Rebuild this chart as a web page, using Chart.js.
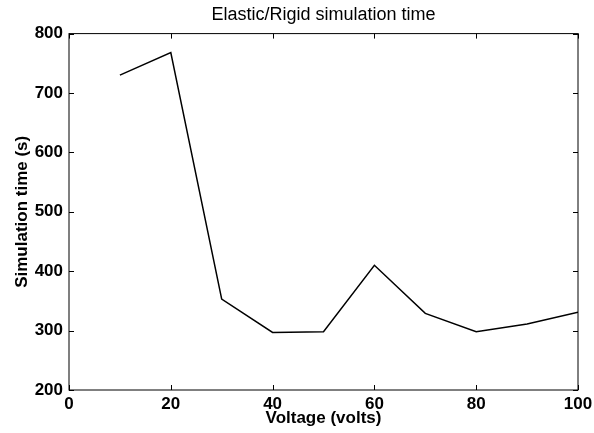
<!DOCTYPE html>
<html>
<head>
<meta charset="utf-8">
<script src="https://cdn.jsdelivr.net/npm/chart.js@4/dist/chart.umd.min.js"></script>
<style>
  html, body { margin: 0; padding: 0; background: #fff; }
  canvas { display: block; }
</style>
</head>
<body>
<canvas id="chart" width="594" height="433"></canvas>
<script>
// values
const voltage = [10, 20, 30, 40, 50, 60, 70, 80, 90, 100];
const simTime = [730, 768, 353, 297, 298, 410, 329, 298, 311, 331];
const xTickValues = [0, 20, 40, 60, 80, 100];
const yTickValues = [200, 300, 400, 500, 600, 700, 800];

Chart.defaults.font.family = '"Liberation Sans", Arial, Helvetica, sans-serif';
Chart.defaults.color = '#000';

// matlab style box with inward ticks on all four sides
const boxTicks = {
  id: 'boxTicks',
  afterDraw(chart) {
    const { ctx, chartArea: a, scales } = chart;
    const len = 5;
    ctx.save();
    ctx.strokeStyle = '#000';
    ctx.lineWidth = 1;
    ctx.strokeRect(a.left, a.top, a.right - a.left, a.bottom - a.top);
    ctx.beginPath();
    xTickValues.forEach(v => {
      const px = Math.round(scales.x.getPixelForValue(v)) + 0.5;
      ctx.moveTo(px, a.bottom); ctx.lineTo(px, a.bottom - len);
      ctx.moveTo(px, a.top); ctx.lineTo(px, a.top + len);
    });
    yTickValues.forEach(v => {
      const py = Math.round(scales.y.getPixelForValue(v)) + 0.5;
      ctx.moveTo(a.left, py); ctx.lineTo(a.left + len, py);
      ctx.moveTo(a.right, py); ctx.lineTo(a.right - len, py);
    });
    ctx.stroke();
    ctx.restore();
  }
};

new Chart(document.getElementById('chart'), {
  type: 'line',
  data: {
    datasets: [{
      data: voltage.map((v, i) => ({ x: v, y: simTime[i] })),
      borderColor: '#000',
      borderWidth: 1.5,
      pointRadius: 0,
      tension: 0,
      fill: false
    }]
  },
  options: {
    responsive: false,
    animation: false,
    layout: { padding: { top: 0, right: 16, bottom: 0, left: 0 } },
    plugins: {
      legend: { display: false },
      tooltip: { enabled: false },
      title: {
        display: true,
        fullSize: false,
        text: 'Elastic/Rigid simulation time',
        color: '#000',
        font: { size: 18, weight: 'normal' },
        padding: { top: 4, bottom: 8 }
      }
    },
    scales: {
      x: {
        type: 'linear',
        min: 0,
        max: 100,
        grid: { display: false, drawTicks: false },
        border: { display: false },
        ticks: {
          stepSize: 20,
          padding: 4,
          maxRotation: 0,
          color: '#000',
          font: { size: 17, weight: 'bold' }
        },
        title: {
          display: true,
          text: 'Voltage (volts)',
          color: '#000',
          font: { size: 17, weight: 'bold' },
          padding: { top: 0, bottom: 4 }
        },
        afterFit(scale) {
          scale.height = 43;
          scale.paddingLeft = 0;
          scale.paddingRight = 0;
        }
      },
      y: {
        min: 200,
        max: 800,
        grid: { display: false, drawTicks: false },
        border: { display: false },
        ticks: {
          stepSize: 100,
          padding: 6,
          color: '#000',
          font: { size: 17, weight: 'bold' }
        },
        title: {
          display: true,
          text: 'Simulation time (s)',
          color: '#000',
          font: { size: 17, weight: 'bold' },
          padding: { top: 12, bottom: 0 }
        },
        afterFit(scale) {
          scale.width = 69;
          scale.paddingTop = 0;
          scale.paddingBottom = 0;
        }
      }
    }
  },
  plugins: [boxTicks]
});
</script>
</body>
</html>
